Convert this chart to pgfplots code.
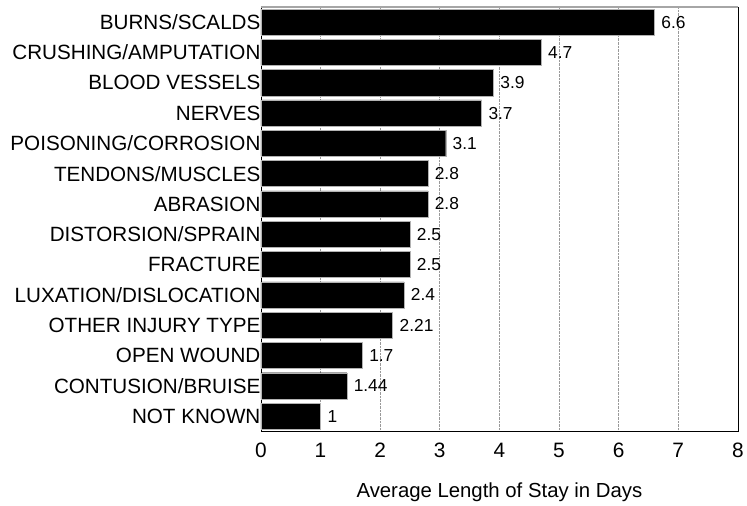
\documentclass[border=0pt]{standalone}
\usepackage{pgfplots}
\pgfplotsset{compat=1.18}
\usepackage{fontspec}
\setmainfont{Liberation Sans}
\begin{document}
\begin{tikzpicture}
\begin{axis}[
  scale only axis,
  width=479bp, height=426bp,
  xbar, bar width=0.86,
  xmin=0, xmax=8,
  ymin=-0.5, ymax=13.5,
  y dir=reverse,
  ytick={0,...,13},
  yticklabels={BURNS/SCALDS,CRUSHING/AMPUTATION,BLOOD VESSELS,NERVES,POISONING/CORROSION,TENDONS/MUSCLES,ABRASION,DISTORSION/SPRAIN,FRACTURE,LUXATION/DISLOCATION,OTHER INJURY TYPE,OPEN WOUND,CONTUSION/BRUISE,NOT KNOWN},
  xtick={0,...,8},
  major tick length=0pt,
  xmajorgrids,
  grid style={densely dotted, gray!80, line width=0.6pt},
  /pgf/number format/assume math mode=true,
  yticklabel style={font=\fontsize{20.8}{24}\selectfont, inner xsep=0.3bp},
  xticklabel style={font=\fontsize{21}{24}\selectfont, yshift=-8bp},
  xlabel={Average Length of Stay in Days},
  xlabel style={font=\fontsize{20.5}{24}\selectfont, yshift=-19bp},
  nodes near coords,
  nodes near coords style={font=\fontsize{17.5}{20}\selectfont, anchor=west, xshift=3.5bp, black},
  axis line style={black, line width=0.8pt},
  clip=false,
]
\addplot[fill=black, draw=gray!60, line width=0.4pt] coordinates {
(6.6,0) (4.7,1) (3.9,2) (3.7,3) (3.1,4) (2.8,5) (2.8,6) (2.5,7) (2.5,8) (2.4,9) (2.21,10) (1.7,11) (1.44,12) (1,13)
};
\draw[gray!70, line width=1.2pt] (rel axis cs:0,1) -- (rel axis cs:1,1);
\end{axis}
\path ([xshift=-262bp,yshift=-72bp]current axis.south west) rectangle ([xshift=6bp,yshift=7bp]current axis.north east);
\end{tikzpicture}
\end{document}
